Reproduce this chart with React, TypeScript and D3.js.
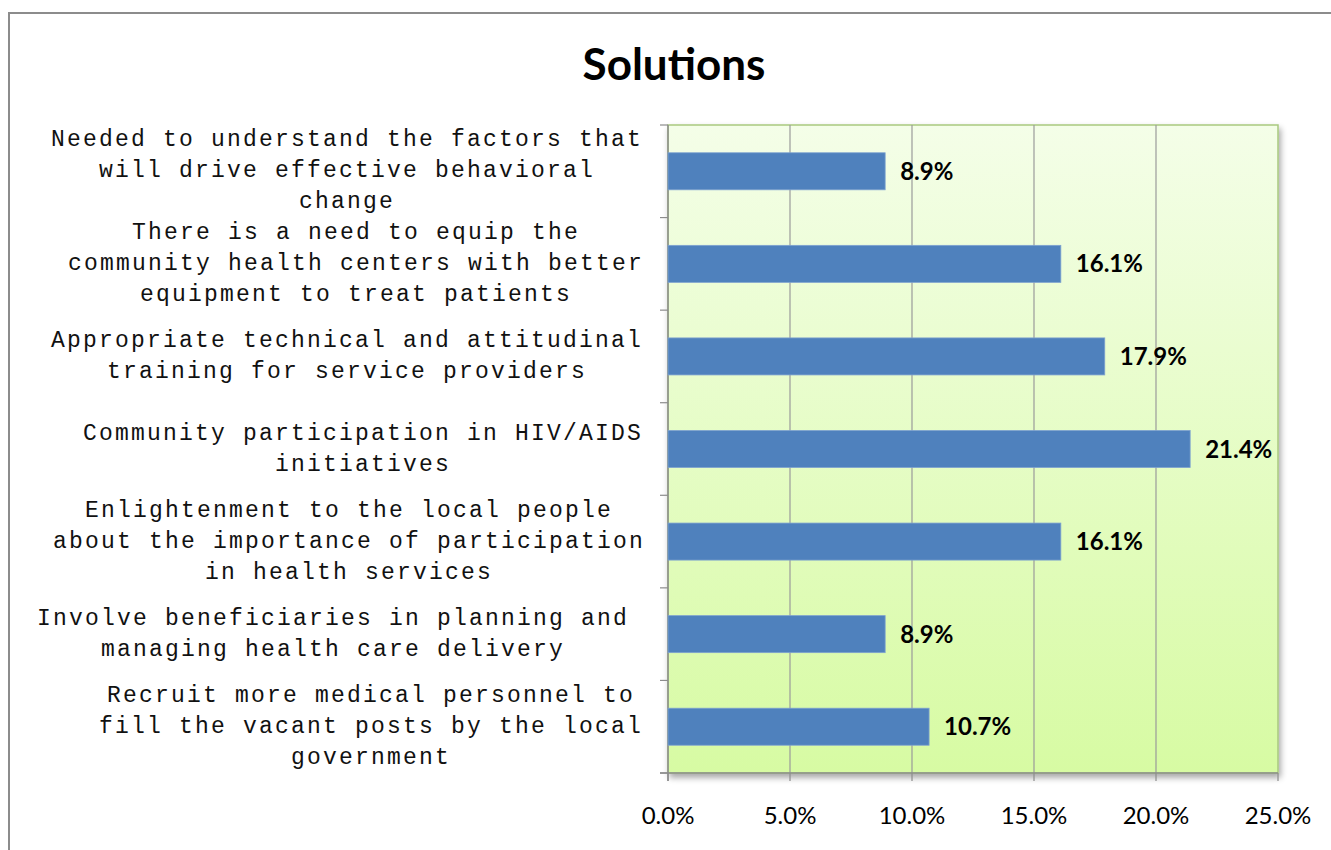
import React from "react";
import * as d3 from "d3";

const categories: string[][] = [
  ["Needed to understand the factors that", "will drive effective behavioral", "change"],
  ["There is a need to equip the", "community health centers with better", "equipment to treat patients"],
  ["Appropriate technical and attitudinal", "training for service providers"],
  ["Community participation in HIV/AIDS", "initiatives"],
  ["Enlightenment to the local people", "about the importance of participation", "in health services"],
  ["Involve beneficiaries in planning and", "managing health care delivery"],
  ["Recruit more medical personnel to", "fill the vacant posts by the local", "government"],
];
const values: number[] = [8.9, 16.1, 17.9, 21.4, 16.1, 8.9, 10.7];
const xTicks: number[] = [0, 5, 10, 15, 20, 25];
const title = "Solutions";

// layout (not data): horizontal centre of each wrapped label block
const labelCentres: number[] = [347, 356, 347, 363, 349, 333, 371];

const W = 1331;
const H = 850;
const left = 668;
const right = 1278;
const top = 125;
const bottom = 773;

export default function App() {
  const x = d3.scaleLinear().domain([0, 25]).range([left, right]);
  const y = d3
    .scaleBand<number>()
    .domain(d3.range(categories.length))
    .range([top, bottom])
    .paddingInner(0.6)
    .paddingOuter(0.3);
  const step = (bottom - top) / categories.length;
  const boundaries = d3.range(categories.length + 1).map((i) => top + i * step);
  const lineH = 31;

  return (
    <svg
      width={W}
      height={H}
      style={{ position: "absolute", left: 0, top: 0, background: "#fff" }}
    >
      <defs>
        <linearGradient id="bg" x1="0" y1="0" x2="0" y2="1">
          <stop offset="0%" stopColor="#f4fee8" />
          <stop offset="100%" stopColor="#d7fba3" />
        </linearGradient>
        <filter id="shadow" x="-5%" y="-5%" width="110%" height="115%">
          <feGaussianBlur in="SourceAlpha" stdDeviation="3" />
          <feOffset dx="2" dy="4" result="b" />
          <feComponentTransfer>
            <feFuncA type="linear" slope="0.35" />
          </feComponentTransfer>
          <feMerge>
            <feMergeNode />
            <feMergeNode in="SourceGraphic" />
          </feMerge>
        </filter>
      </defs>

      {/* outer chart border */}
      <rect x={9} y={13} width={W + 20} height={H + 20} fill="#fff" stroke="#8c8c8c" strokeWidth={2} />

      {/* title */}
      <text
        x={674}
        y={80}
        textAnchor="middle"
        fontFamily="Lato, 'Open Sans', sans-serif"
        fontWeight="bold"
        fontSize={44}
        fill="#000"
      >
        {title}
      </text>

      {/* plot area */}
      <rect
        x={left}
        y={top}
        width={right - left}
        height={bottom - top}
        fill="url(#bg)"
        stroke="#a9c97f"
        strokeWidth={1.5}
        filter="url(#shadow)"
      />

      {/* gridlines */}
      {xTicks
        .filter((t) => t > 0 && t < 25)
        .map((t) => (
          <line key={"g" + t} x1={x(t)} x2={x(t)} y1={top} y2={bottom} stroke="#9a9a9a" strokeWidth={1.2} />
        ))}

      {/* axes */}
      <line x1={left} x2={left} y1={top} y2={bottom + 8} stroke="#8c8c8c" strokeWidth={1.5} />
      <line x1={left - 8} x2={right} y1={bottom} y2={bottom} stroke="#8c8c8c" strokeWidth={1.5} />
      {boundaries.map((b, i) => (
        <line key={"yt" + i} x1={left - 8} x2={left} y1={b} y2={b} stroke="#8c8c8c" strokeWidth={1.2} />
      ))}
      {xTicks.map((t) => (
        <line key={"xt" + t} x1={x(t)} x2={x(t)} y1={bottom} y2={bottom + 8} stroke="#8c8c8c" strokeWidth={1.2} />
      ))}

      {/* bars */}
      {values.map((v, i) => (
        <rect
          key={"b" + i}
          x={x(0)}
          y={y(i)!}
          width={x(v) - x(0)}
          height={y.bandwidth()}
          fill="#4f81bd"
          stroke="#7ea2d0"
          strokeWidth={0.8}
        />
      ))}

      {/* value labels */}
      {values.map((v, i) => (
        <text
          key={"v" + i}
          x={x(v) + 15}
          y={y(i)! + y.bandwidth() / 2}
          dy="0.36em"
          fontFamily="Lato, 'Open Sans', sans-serif"
          fontWeight="bold"
          fontSize={24}
          fill="#000"
        >
          {v.toFixed(1) + "%"}
        </text>
      ))}

      {/* x tick labels */}
      {xTicks.map((t) => (
        <text
          key={"xl" + t}
          x={x(t)}
          y={824}
          textAnchor="middle"
          fontFamily="Lato, 'Open Sans', sans-serif"
          fontSize={24}
          fill="#000"
        >
          {t.toFixed(1) + "%"}
        </text>
      ))}

      {/* category labels */}
      {categories.map((lines, i) => {
        const c = top + (i + 0.5) * step - 2;
        const first = c - ((lines.length - 1) * lineH) / 2;
        return (
          <text
            key={"c" + i}
            textAnchor="middle"
            fontFamily="'Liberation Mono', 'Courier New', monospace"
            fontSize={23}
            letterSpacing={2.2}
            fill="#111"
          >
            {lines.map((ln, j) => (
              <tspan key={j} x={labelCentres[i]} y={first + j * lineH} dy="0.35em">
                {ln}
              </tspan>
            ))}
          </text>
        );
      })}
    </svg>
  );
}
